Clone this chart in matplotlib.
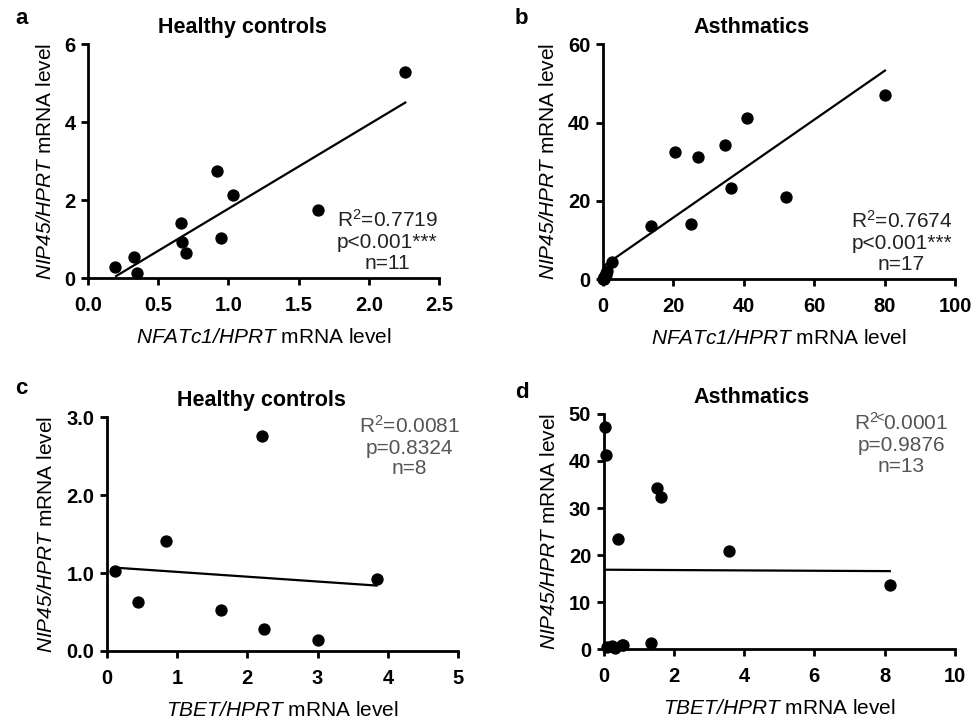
import matplotlib
matplotlib.use("Agg")
import matplotlib.pyplot as plt

plt.rcParams['font.family'] = ['Liberation Sans', 'DejaVu Sans']
plt.rcParams['mathtext.fontset'] = 'custom'
plt.rcParams['mathtext.rm'] = 'Liberation Sans'
plt.rcParams['mathtext.it'] = 'Liberation Sans:italic'
plt.rcParams['mathtext.cal'] = 'Liberation Sans:italic'
plt.rcParams['mathtext.bf'] = 'Liberation Sans:bold'

# a: healthy controls, NFATc1 vs NIP45
a_x = [0.19, 0.33, 0.35, 0.66, 0.67, 0.70, 0.92, 0.95, 1.03, 1.64, 2.26]
a_y = [0.28, 0.53, 0.14, 1.42, 0.92, 0.63, 2.75, 1.03, 2.13, 1.74, 5.29]
a_fit_x = [0.20, 2.26]
a_fit_y = [0.05, 4.50]

# b: asthmatics, NFATc1 vs NIP45
b_x = [0.1, 0.3, 0.5, 0.8, 1.0, 1.2, 0.4, 2.6, 13.6, 24.9, 20.6, 27.0,
       34.6, 36.5, 40.8, 51.9, 80.1]
b_y = [0.2, 0.5, 0.8, 1.2, 1.5, 2.0, 0.1, 4.3, 13.7, 14.0, 32.4, 31.3,
       34.3, 23.4, 41.3, 20.9, 47.1]
b_fit_x = [0.5, 80.1]
b_fit_y = [3.6, 53.3]

# c: healthy controls, TBET vs NIP45
c_x = [0.12, 0.44, 0.85, 1.63, 2.21, 2.24, 3.01, 3.85]
c_y = [1.03, 0.63, 1.41, 0.52, 2.76, 0.28, 0.14, 0.92]
c_fit_x = [0.12, 3.84]
c_fit_y = [1.07, 0.84]

# d: asthmatics, TBET vs NIP45
d_x = [0.03, 0.05, 0.41, 1.52, 1.64, 3.56, 8.15, 1.36, 0.09, 0.23, 0.32,
       0.51, 0.56]
d_y = [47.2, 41.3, 23.4, 34.3, 32.4, 20.8, 13.6, 1.3, 0.4, 0.6, 0.2,
       0.9, 1.0]
d_fit_x = [0.03, 8.15]
d_fit_y = [16.9, 16.6]

titles = ["Healthy controls", "Asthmatics", "Healthy controls", "Asthmatics"]
letters = ["a", "b", "c", "d"]
stats = [
    "R$^2$=0.7719\np<0.001***\nn=11",
    "R$^2$=0.7674\np<0.001***\nn=17",
    "R$^2$=0.0081\np=0.8324\nn=8",
    r"R$^{2\!\!<\!\!}$0.0001" + "\np=0.9876\nn=13",
]
xlabels = [r"$\mathcal{NFATc1/HPRT}$ mRNA level", r"$\mathcal{NFATc1/HPRT}$ mRNA level",
           r"$\mathcal{TBET/HPRT}$ mRNA level", r"$\mathcal{TBET/HPRT}$ mRNA level"]
ylabel = r"$\mathcal{NIP45/HPRT}$ mRNA level"

fig = plt.figure(figsize=(9.76, 7.21), dpi=100)
rects = [
    [0.0902, 0.6144, 0.3596, 0.3245],
    [0.6178, 0.6126, 0.3607, 0.3259],
    [0.1093, 0.0971, 0.3602, 0.3241],
    [0.6186, 0.0995, 0.3596, 0.3264],
]
panels = [
    (a_x, a_y, a_fit_x, a_fit_y, (0, 2.5), (0, 6), [0, 0.5, 1.0, 1.5, 2.0, 2.5], [0, 2, 4, 6]),
    (b_x, b_y, b_fit_x, b_fit_y, (0, 100), (0, 60), [0, 20, 40, 60, 80, 100], [0, 20, 40, 60]),
    (c_x, c_y, c_fit_x, c_fit_y, (0, 5), (0, 3), [0, 1, 2, 3, 4, 5], [0, 1, 2, 3]),
    (d_x, d_y, d_fit_x, d_fit_y, (0, 10), (0, 50), [0, 2, 4, 6, 8, 10], [0, 10, 20, 30, 40, 50]),
]
stat_pos = [(2.13, 1.76), (84.8, 17.6), (4.31, 3.03), (8.47, 50.4)]
stat_col = ["#222222", "#222222", "#555555", "#555555"]
title_x = [0.439, 0.423, 0.44, 0.42]

for i, (x, y, fx, fy, xl, yl, xt, yt) in enumerate(panels):
    ax = fig.add_axes(rects[i])
    ax.scatter(x, y, s=62, color="black", zorder=3, clip_on=False)
    ax.plot(fx, fy, color="black", lw=1.6)
    ax.set_xlim(*xl)
    ax.set_ylim(*yl)
    ax.set_xticks(xt)
    ax.set_yticks(yt)
    if i == 0:
        ax.set_xticklabels(["0.0", "0.5", "1.0", "1.5", "2.0", "2.5"])
    if i == 2:
        ax.set_yticklabels(["0.0", "1.0", "2.0", "3.0"])
    for s in ["top", "right"]:
        ax.spines[s].set_visible(False)
    for s in ["left", "bottom"]:
        ax.spines[s].set_linewidth(2.0)
    ax.tick_params(width=2.0, length=5, labelsize=14.5)
    ax.tick_params(axis="x", pad=8)
    ax.tick_params(axis="y", pad=4)
    for lab in ax.get_xticklabels() + ax.get_yticklabels():
        lab.set_fontweight("bold")
    ax.set_xlabel(xlabels[i], fontsize=15, labelpad=9)
    ax.set_ylabel(ylabel, fontsize=15, labelpad=7)
    ax.set_title(titles[i], fontsize=15.5, fontweight="bold", pad=8, x=title_x[i])
    ax.text(stat_pos[i][0], stat_pos[i][1], stats[i], ha="center", va="top",
            fontsize=15, color=stat_col[i], linespacing=1.12)

fig.text(15 / 976, 1 - 18 / 721, "a", fontsize=16, fontweight="bold", va="center")
fig.text(515 / 976, 1 - 18 / 721, "b", fontsize=16, fontweight="bold", va="center")
fig.text(15 / 976, 1 - 389 / 721, "c", fontsize=16, fontweight="bold", va="center")
fig.text(515 / 976, 1 - 393 / 721, "d", fontsize=16, fontweight="bold", va="center")

fig.savefig("out.png", dpi=100)
